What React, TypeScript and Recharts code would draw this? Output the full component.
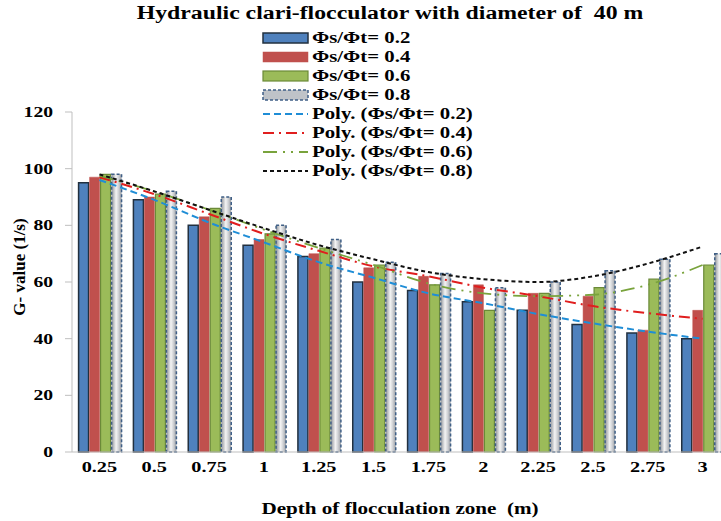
import { ComposedChart, Bar, Line, XAxis, YAxis, Label } from 'recharts'

const depths = ['0.25', '0.5', '0.75', '1', '1.25', '1.5', '1.75', '2', '2.25', '2.5', '2.75', '3']

// G-values per ratio Φs/Φt
const g02 = [95, 89, 80, 73, 69, 60, 57, 53, 50, 45, 42, 40]
const g04 = [97, 90, 83, 75, 70, 65, 62, 59, 56, 55, 43, 50]
const g06 = [98, 91, 86, 77, 72, 66, 59, 50, 56, 58, 61, 66]
const g08 = [98, 92, 90, 80, 75, 67, 63, 58, 60, 64, 68, 70]

// polynomial trend lines
const poly02 = [96, 89, 81, 74, 67, 61.5, 56, 52.5, 48.7, 45.4, 42.5, 40]
const poly04 = [97, 91, 84, 77, 71, 65.5, 62, 58, 55, 51.5, 49, 47]
const poly06 = [97.5, 92, 85.5, 78.5, 72, 66, 59.5, 56, 55, 55.5, 59, 66]
const poly08 = [98, 92, 85.5, 79, 73, 68, 63.5, 61, 60, 62, 66.5, 72.5]

const barNames = ['Φs/Φt= 0.2', 'Φs/Φt= 0.4', 'Φs/Φt= 0.6', 'Φs/Φt= 0.8']
const polyNames = ['Poly. (Φs/Φt= 0.2)', 'Poly. (Φs/Φt= 0.4)', 'Poly. (Φs/Φt= 0.6)', 'Poly. (Φs/Φt= 0.8)']
const yTicks = [0, 20, 40, 60, 80, 100, 120]

const data = depths.map((d, i) => ({
  depth: d,
  b02: g02[i], b04: g04[i], b06: g06[i], b08: g08[i],
  p02: poly02[i], p04: poly04[i], p06: poly06[i], p08: poly08[i],
}))

const SERIF = '"Liberation Serif", "Times New Roman", serif'

const barStyles = [
  { fill: '#4f81bd', stroke: '#22303f', strokeWidth: 1.5 },
  { fill: '#c0504d', stroke: '#c0504d', strokeWidth: 0.5 },
  { fill: '#9bbb59', stroke: '#6b8a38', strokeWidth: 1.2 },
  { fill: 'url(#grayGrad)', stroke: '#3f5f86', strokeWidth: 1.5, strokeDasharray: '3 2' },
]
const lineStyles = [
  { stroke: '#1f8dd6', strokeDasharray: '7 4' },
  { stroke: '#e01e1e', strokeDasharray: '11 5 2 5' },
  { stroke: '#79a33c', strokeDasharray: '14 6 2 6 2 6' },
  { stroke: '#111111', strokeDasharray: '4 3' },
]

function XTick({ x, y, payload }: any) {
  return (
    <text transform={`translate(${x},${y + 20}) scale(1.45,1)`} textAnchor="middle"
      fontFamily={SERIF} fontWeight={700} fontSize={14} fill="#000">{payload.value}</text>
  )
}

function YTick({ x, y, payload }: any) {
  return (
    <text transform={`translate(${x - 12},${y + 5}) scale(1.4,1)`} textAnchor="end"
      fontFamily={SERIF} fontWeight={700} fontSize={14} fill="#000">{payload.value}</text>
  )
}

const legendText = { display: 'inline-block', transform: 'scaleX(1.3)', transformOrigin: 'left', whiteSpace: 'pre' } as const

function LegendBox() {
  return (
    <div style={{ position: 'absolute', left: 262, top: 28, fontFamily: SERIF, fontWeight: 700, fontSize: 16 }}>
      {barNames.map((n, i) => (
        <div key={n} style={{ height: 19.1, display: 'flex', alignItems: 'center' }}>
          <svg width={50} height={14}>
            <rect x={1} y={2} width={45} height={10} {...barStyles[i]}
              fill={i === 3 ? '#bfc3c8' : barStyles[i].fill} />
          </svg>
          <span style={legendText}>{n}</span>
        </div>
      ))}
      {polyNames.map((n, i) => (
        <div key={n} style={{ height: 19.1, display: 'flex', alignItems: 'center' }}>
          <svg width={50} height={14}>
            <line x1={1} y1={7} x2={46} y2={7} strokeWidth={2} {...lineStyles[i]} />
          </svg>
          <span style={legendText}>{n}</span>
        </div>
      ))}
    </div>
  )
}

export default function App() {
  return (
    <div style={{ position: 'absolute', left: 0, top: 0, width: 721, height: 521, overflow: 'hidden', background: '#fff' }}>
      <ComposedChart width={735} height={521} data={data}
        margin={{ top: 112, right: 5, bottom: 0, left: 0 }}
        barCategoryGap="12%" barGap={1}>
        <defs>
          <linearGradient id="grayGrad" x1="0" y1="0" x2="1" y2="0">
            <stop offset="0%" stopColor="#8f9399" />
            <stop offset="45%" stopColor="#f4f4f4" />
            <stop offset="70%" stopColor="#d0d2d5" />
            <stop offset="100%" stopColor="#9a9ea4" />
          </linearGradient>
        </defs>
        <XAxis dataKey="depth" height={69} tick={<XTick />} tickLine={false} tickSize={0} tickMargin={0}
          axisLine={{ stroke: '#bfbfbf' }} interval={0}>
          <Label content={() => (
            <text transform="translate(400,514) scale(1.32,1)" textAnchor="middle"
              fontFamily={SERIF} fontWeight={700} fontSize={16} fill="#000" style={{ whiteSpace: 'pre' }}>
              Depth of flocculation zone  (m)
            </text>
          )} />
        </XAxis>
        <YAxis width={72} domain={[0, 120]} ticks={yTicks} tick={<YTick />} tickSize={7} tickMargin={0}
          tickLine={{ stroke: '#bfbfbf' }} axisLine={{ stroke: '#bfbfbf' }}>
          <Label content={() => (
            <text transform="translate(25,267) rotate(-90)" textAnchor="middle"
              fontFamily={SERIF} fontWeight={700} fontSize={17} fill="#000">G- value (1/s)</text>
          )} />
        </YAxis>
        <Bar dataKey="b02" name={barNames[0]} {...barStyles[0]} isAnimationActive={false} />
        <Bar dataKey="b04" name={barNames[1]} {...barStyles[1]} isAnimationActive={false} />
        <Bar dataKey="b06" name={barNames[2]} {...barStyles[2]} isAnimationActive={false} />
        <Bar dataKey="b08" name={barNames[3]} {...barStyles[3]} isAnimationActive={false} />
        <Line dataKey="p02" name={polyNames[0]} type="monotone" dot={false} strokeWidth={2} {...lineStyles[0]} isAnimationActive={false} />
        <Line dataKey="p04" name={polyNames[1]} type="monotone" dot={false} strokeWidth={2} {...lineStyles[1]} isAnimationActive={false} />
        <Line dataKey="p06" name={polyNames[2]} type="monotone" dot={false} strokeWidth={1.8} {...lineStyles[2]} isAnimationActive={false} />
        <Line dataKey="p08" name={polyNames[3]} type="monotone" dot={false} strokeWidth={2} {...lineStyles[3]} isAnimationActive={false} />
      </ComposedChart>
      <div style={{ position: 'absolute', left: 390, top: 3, transform: 'translateX(-50%) scaleX(1.32)',
        fontFamily: SERIF, fontWeight: 700, fontSize: 18, whiteSpace: 'pre' }}>
        Hydraulic clari-flocculator with diameter of  40 m
      </div>
      <LegendBox />
    </div>
  )
}
